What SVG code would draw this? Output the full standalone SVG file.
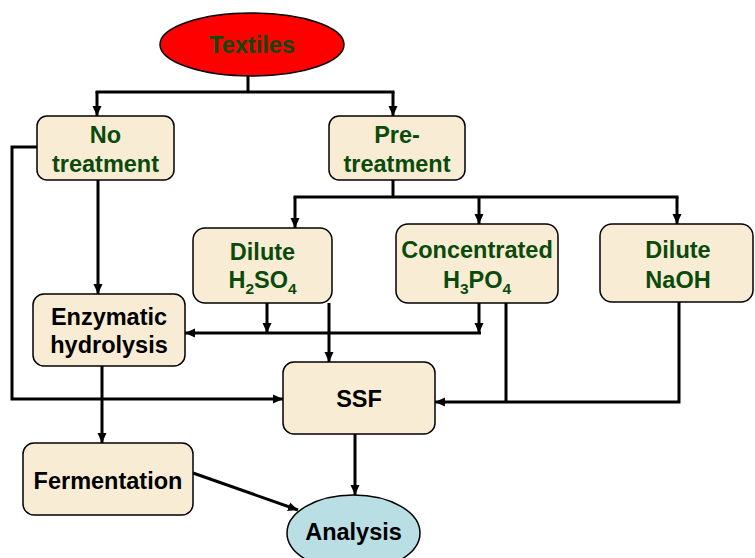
<svg xmlns="http://www.w3.org/2000/svg" width="755" height="558" viewBox="0 0 755 558">
<defs>
<marker id="ah" markerUnits="userSpaceOnUse" markerWidth="10" markerHeight="10" viewBox="0 0 10 10" refX="10" refY="5" orient="auto">
<path d="M0,0.5 L10,5 L0,9.5 Z" fill="#000"/>
</marker>
</defs>
<style>
.box{fill:#F8EDD4;stroke:#000;stroke-width:1.5}
.t{font-family:"Liberation Sans",Arial,sans-serif;font-weight:bold;font-size:23.5px;text-anchor:middle}
.g{fill:#0A4A0A}
.k{fill:#000}
.sub{font-size:15.5px}
.c{fill:none;stroke:#000;stroke-width:3}
</style>
<rect width="755" height="558" fill="#fff"/>
<g id="connectors">
<path class="c" d="M248,76 V92 M95.5,92 H394.5"/>
<path class="c" d="M97,92 V116" marker-end="url(#ah)"/>
<path class="c" d="M393,92 V116" marker-end="url(#ah)"/>
<path class="c" d="M37,147 H12 V399 H283" marker-end="url(#ah)"/>
<path class="c" d="M98,180 V294" marker-end="url(#ah)"/>
<path class="c" d="M102,366 V443" marker-end="url(#ah)"/>
<path class="c" d="M193,473 L298,510" marker-end="url(#ah)"/>
<path class="c" d="M393,180 V197 M293.5,197 H678.5"/>
<path class="c" d="M295,197 V228" marker-end="url(#ah)"/>
<path class="c" d="M479,197 V224" marker-end="url(#ah)"/>
<path class="c" d="M677,197 V224" marker-end="url(#ah)"/>
<path class="c" d="M267,303 V333" marker-end="url(#ah)"/>
<path class="c" d="M479,303 V333" marker-end="url(#ah)"/>
<path class="c" d="M481,333 H185" marker-end="url(#ah)"/>
<path class="c" d="M329,303 V362" marker-end="url(#ah)"/>
<path class="c" d="M506,303 V402"/>
<path class="c" d="M679,302 V402 H435" marker-end="url(#ah)"/>
<path class="c" d="M355,434 V495" marker-end="url(#ah)"/>
</g>
<g id="textiles">
<ellipse cx="252" cy="44.5" rx="92" ry="31.5" fill="#FF0000" stroke="#000" stroke-width="1.5"/>
<text class="t g" x="252" y="53">Textiles</text>
</g>
<g id="no-treatment">
<rect class="box" x="37" y="116" width="137" height="64" rx="10"/>
<text class="t g" x="105.5" y="143">No</text>
<text class="t g" x="105.5" y="172">treatment</text>
</g>
<g id="pre-treatment">
<rect class="box" x="329" y="116" width="136" height="64" rx="10"/>
<text class="t g" x="397" y="143">Pre-</text>
<text class="t g" x="397" y="172">treatment</text>
</g>
<g id="dilute-h2so4">
<rect class="box" x="193" y="228" width="139" height="75" rx="12"/>
<text class="t g" x="262.5" y="260">Dilute</text>
<text class="t g" x="262.5" y="288">H<tspan class="sub" dy="6">2</tspan><tspan dy="-6">SO</tspan><tspan class="sub" dy="6">4</tspan></text>
</g>
<g id="concentrated-h3po4">
<rect class="box" x="396" y="224" width="162" height="79" rx="12"/>
<text class="t g" x="477" y="258">Concentrated</text>
<text class="t g" x="477" y="288">H<tspan class="sub" dy="6">3</tspan><tspan dy="-6">PO</tspan><tspan class="sub" dy="6">4</tspan></text>
</g>
<g id="dilute-naoh">
<rect class="box" x="600" y="224" width="153" height="78" rx="12"/>
<text class="t g" x="678" y="258">Dilute</text>
<text class="t g" x="678" y="288">NaOH</text>
</g>
<g id="enzymatic-hydrolysis">
<rect class="box" x="33" y="294" width="152" height="72" rx="11"/>
<text class="t k" x="109" y="325">Enzymatic</text>
<text class="t k" x="109" y="353">hydrolysis</text>
</g>
<g id="ssf">
<rect class="box" x="283" y="362" width="152" height="72" rx="11"/>
<text class="t k" x="359" y="407">SSF</text>
</g>
<g id="fermentation">
<rect class="box" x="23" y="443" width="170" height="72" rx="11"/>
<text class="t k" x="108" y="489">Fermentation</text>
</g>
<g id="analysis">
<ellipse cx="353.5" cy="533" rx="66.5" ry="38" fill="#B9DEE3" stroke="#000" stroke-width="1.5"/>
<text class="t k" x="353.5" y="540">Analysis</text>
</g>
</svg>
